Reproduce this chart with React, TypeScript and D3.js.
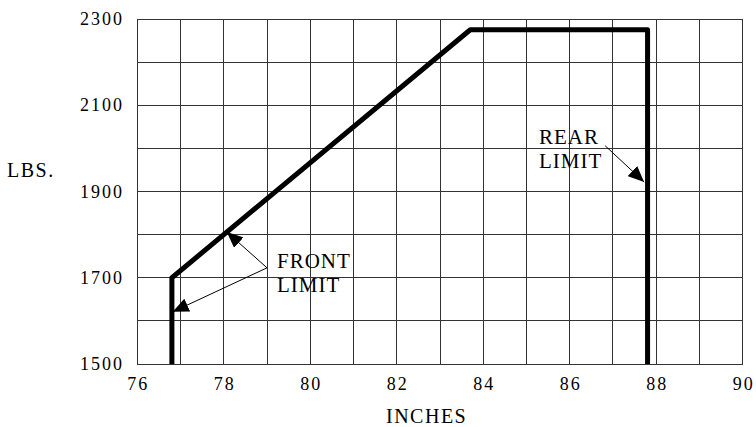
import React from "react";
import * as d3 from "d3";

// envelope (inches, lbs)
const envelopeInches = [76.8, 76.8, 83.7, 87.8, 87.8];
const envelopeLbs = [1500, 1700, 2275, 2275, 1500];

const xTicks = [76, 78, 80, 82, 84, 86, 88, 90];
const yTicks = [1500, 1700, 1900, 2100, 2300];
const xGrid = d3.range(76, 91, 1);
const yGrid = d3.range(1500, 2301, 100);

// leader arrows: from label point to the envelope
const frontArrowFrom = [79.0, 1723];
const frontArrowTips = [
  [78.07, 1806],
  [76.82, 1621],
];
const rearArrowFrom = [86.82, 2006];
const rearArrowTip = [87.72, 1922];

const frontLabel = ["FRONT", "LIMIT"];
const rearLabel = ["REAR", "LIMIT"];

const font = "'Liberation Serif', 'Times New Roman', serif";

export default function App() {
  const x = d3.scaleLinear().domain([76, 90]).range([137.3, 742.7]);
  const y = d3.scaleLinear().domain([1500, 2300]).range([364, 19]);

  const line = d3
    .line<number>()
    .x((d) => x(envelopeInches[d]))
    .y((d) => y(envelopeLbs[d]))
    .curve(d3.curveLinear);

  return (
    <svg
      width={756}
      height={427}
      style={{ position: "absolute", left: 0, top: 0, background: "#fff" }}
    >
      <defs>
        <marker
          id="head"
          markerUnits="userSpaceOnUse"
          markerWidth={18}
          markerHeight={14}
          refX={16}
          refY={7}
          orient="auto"
        >
          <path d="M0,0 L16,7 L0,14 Z" fill="#000" />
        </marker>
      </defs>

      {/* grid */}
      <g stroke="#333" strokeWidth={1} shapeRendering="crispEdges">
        {xGrid.map((v) => (
          <line key={"gx" + v} x1={x(v)} x2={x(v)} y1={y(2300)} y2={y(1500)} />
        ))}
        {yGrid.map((v) => (
          <line key={"gy" + v} x1={x(76)} x2={x(90)} y1={y(v)} y2={y(v)} />
        ))}
      </g>

      {/* envelope */}
      <path
        d={line(d3.range(envelopeInches.length)) || ""}
        fill="none"
        stroke="#000"
        strokeWidth={5}
        strokeLinejoin="round"
      />

      {/* arrows */}
      <g stroke="#000" strokeWidth={1} fill="none">
        {frontArrowTips.map((t, i) => (
          <line
            key={"fa" + i}
            x1={x(frontArrowFrom[0])}
            y1={y(frontArrowFrom[1])}
            x2={x(t[0])}
            y2={y(t[1])}
            markerEnd="url(#head)"
          />
        ))}
        <line
          x1={x(rearArrowFrom[0])}
          y1={y(rearArrowFrom[1])}
          x2={x(rearArrowTip[0])}
          y2={y(rearArrowTip[1])}
          markerEnd="url(#head)"
        />
      </g>

      {/* tick labels */}
      <g fontFamily={font} fontSize={18} fill="#000" letterSpacing={2}>
        {yTicks.map((v) => (
          <text key={"ty" + v} x={124} y={y(v) + 6} textAnchor="end">
            {v}
          </text>
        ))}
        {xTicks.map((v) => (
          <text key={"tx" + v} x={x(v) + 1} y={390} textAnchor="middle">
            {v}
          </text>
        ))}
      </g>

      {/* axis titles */}
      <g fontFamily={font} fontSize={20} fill="#000" letterSpacing={1.5}>
        <text x={7} y={177}>
          LBS.
        </text>
        <text x={386} y={423}>
          INCHES
        </text>
      </g>

      {/* annotations */}
      <g fontFamily={font} fontSize={21} fill="#000" letterSpacing={1}>
        {frontLabel.map((s, i) => (
          <text key={"fl" + i} x={277} y={268 + i * 24}>
            {s}
          </text>
        ))}
        {rearLabel.map((s, i) => (
          <text key={"rl" + i} x={539} y={144 + i * 24}>
            {s}
          </text>
        ))}
      </g>
    </svg>
  );
}
